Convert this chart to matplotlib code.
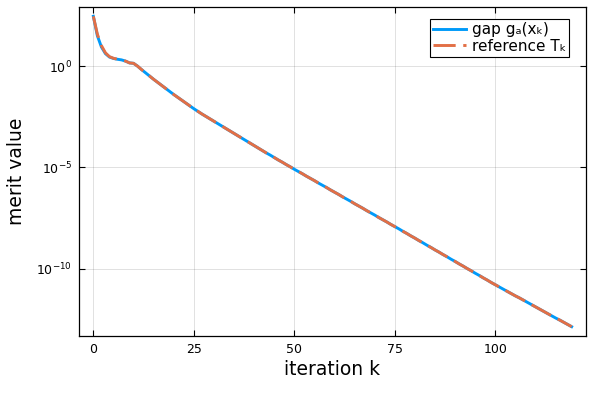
import numpy as np
import matplotlib
matplotlib.use("Agg")
import matplotlib.pyplot as plt
from matplotlib.ticker import FixedLocator, NullLocator, LogFormatterSciNotation

# iterations
k = list(range(0, 120))

# log10 of gap values
gap_log10 = [
    2.46, 1.50, 0.95, 0.62, 0.45, 0.38, 0.34, 0.31, 0.25, 0.16,
    0.14, 0.00, -0.17, -0.33, -0.49, -0.65, -0.80, -0.95, -1.10, -1.25,
    -1.40, -1.54, -1.68, -1.82, -1.96, -2.10, -2.23, -2.36, -2.48, -2.60,
    -2.72, -2.84, -2.96, -3.08, -3.20, -3.32, -3.44, -3.56, -3.68, -3.80,
    -3.92, -4.04, -4.16, -4.28, -4.39, -4.51, -4.63, -4.74, -4.86, -4.97,
    -5.09, -5.20, -5.31, -5.43, -5.54, -5.65, -5.77, -5.88, -5.99, -6.11,
    -6.22, -6.33, -6.45, -6.56, -6.67, -6.79, -6.90, -7.01, -7.13, -7.24,
    -7.35, -7.47, -7.58, -7.69, -7.81, -7.92, -8.03, -8.15, -8.26, -8.38,
    -8.49, -8.61, -8.72, -8.84, -8.95, -9.07, -9.18, -9.30, -9.41, -9.53,
    -9.64, -9.76, -9.87, -9.99, -10.10, -10.22, -10.33, -10.45, -10.56, -10.68,
    -10.79, -10.90, -11.01, -11.12, -11.23, -11.34, -11.44, -11.55, -11.66, -11.77,
    -11.88, -11.99, -12.10, -12.21, -12.32, -12.43, -12.53, -12.64, -12.75, -12.86,
]

# log10 of reference values (slightly above gap in the first iterations)
ref_log10 = [
    2.46, 1.58, 1.02, 0.66, 0.47, 0.39, 0.34, 0.31, 0.25, 0.16,
    0.14, 0.00, -0.17, -0.33, -0.49, -0.65, -0.80, -0.95, -1.10, -1.25,
    -1.40, -1.54, -1.68, -1.82, -1.96, -2.10, -2.23, -2.36, -2.48, -2.60,
    -2.72, -2.84, -2.96, -3.08, -3.20, -3.32, -3.44, -3.56, -3.68, -3.80,
    -3.92, -4.04, -4.16, -4.28, -4.39, -4.51, -4.63, -4.74, -4.86, -4.97,
    -5.09, -5.20, -5.31, -5.43, -5.54, -5.65, -5.77, -5.88, -5.99, -6.11,
    -6.22, -6.33, -6.45, -6.56, -6.67, -6.79, -6.90, -7.01, -7.13, -7.24,
    -7.35, -7.47, -7.58, -7.69, -7.81, -7.92, -8.03, -8.15, -8.26, -8.38,
    -8.49, -8.61, -8.72, -8.84, -8.95, -9.07, -9.18, -9.30, -9.41, -9.53,
    -9.64, -9.76, -9.87, -9.99, -10.10, -10.22, -10.33, -10.45, -10.56, -10.68,
    -10.79, -10.90, -11.01, -11.12, -11.23, -11.34, -11.44, -11.55, -11.66, -11.77,
    -11.88, -11.99, -12.10, -12.21, -12.32, -12.43, -12.53, -12.64, -12.75, -12.86,
]

xticks = [0, 25, 50, 75, 100]
yticks = [1e0, 1e-5, 1e-10]
series_labels = ["gap gₐ(xₖ)", "reference Tₖ"]
xlabel = "iteration k"
ylabel = "merit value"

gap = np.power(10.0, gap_log10)
ref = np.power(10.0, ref_log10)

fig = plt.figure(figsize=(5.94, 4.08), dpi=100)
ax = fig.add_axes([79/594, 1-336/408, (586-79)/594, (336-7)/408])

ax.plot(k, gap, color="#009af9", lw=2.1, label=series_labels[0])
ax.plot(k, ref, color="#e26f46", lw=2.1, ls=(0, (7.6, 2.6)), label=series_labels[1])

ax.set_yscale("log")
ax.set_xlim(-3.57, 122.57)
ax.set_ylim(10**-13.32, 10**2.92)

ax.xaxis.set_major_locator(FixedLocator(xticks))
ax.yaxis.set_major_locator(FixedLocator(yticks))
ax.yaxis.set_major_formatter(LogFormatterSciNotation())
ax.yaxis.set_minor_locator(NullLocator())
ax.xaxis.set_minor_locator(NullLocator())

ax.grid(True, color="black", alpha=0.12, lw=0.7)
ax.tick_params(direction="in", top=True, right=True, length=4, width=0.8,
               labelsize=9, colors="black", pad=5)
for s in ax.spines.values():
    s.set_color("black")
    s.set_linewidth(0.9)

ax.set_xlabel(xlabel, fontsize=13.5, labelpad=3)
ax.set_ylabel(ylabel, fontsize=13.5, labelpad=7)

leg = ax.legend(loc="upper right", bbox_to_anchor=((569-79)/507, (336-19)/329),
                fontsize=11, frameon=True, fancybox=False,
                edgecolor="black", framealpha=1.0, handlelength=2.2,
                borderaxespad=0.0, handletextpad=0.35, labelspacing=0.1,
                borderpad=0.2)
leg.get_frame().set_linewidth(0.8)

fig.savefig("out.png", dpi=100)
